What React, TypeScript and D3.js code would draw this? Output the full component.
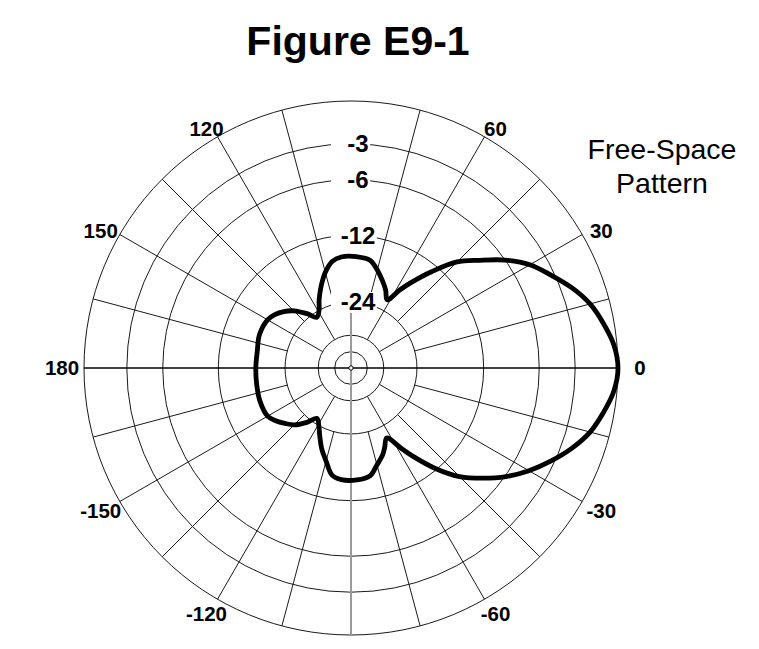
import React from "react";
import * as d3 from "d3";

const WIDTH = 759;
const HEIGHT = 649;
const titleText = "Figure E9-1";
const legendLines = ["Free-Space", "Pattern"];
const ringGains = [0, -3, -6, -12, -24, -36, -48];
const ringLabelGains = [-3, -6, -12, -24];
const angleTicks = [0, 30, 60, 120, 150, 180, -30, -60, -120, -150];

const patternAngles = [
  -170, -160, -150, -145, -140, -135, -129, -124, -119, -115, -110, -105, -100, -95, -87, -80, -75, -70, -67, -63,
  -58, -55, -50, -45, -40, -35, -30, -25, -20, -15, -10, -5,
  0, 5, 10, 15, 20, 25, 30, 35, 40, 45, 50, 55, 58, 62, 66, 70, 75, 80, 87, 95, 100, 105, 110, 115, 119, 124, 129,
  135, 140, 145, 150, 160, 170, 180,
];
const patternGains = [
  -17.6, -17.4, -17.5, -18.3, -19.4, -20.6, -23.0, -25.4, -23.9, -22.0, -19.5, -17.5, -15.4, -14.9, -14.9, -15.3, -16.8, -18.2, -19.4, -21.0,
  -17.8, -15.6, -12.2, -9.5, -7.6, -5.9, -4.5, -3.3, -2.2, -1.3, -0.7, -0.2,
  0, -0.2, -0.7, -1.3, -2.2, -3.3, -4.4, -6.0, -8.0, -9.9, -12.9, -16.2, -18.3, -21.3, -19.6, -18.2, -16.6, -15.3, -15.0, -15.0, -15.5, -17.0, -19.2, -21.7, -24.0, -25.3, -23.0,
  -20.5, -19.1, -18.1, -17.5, -17.3, -17.7, -17.7,
];

const FONT = "Arial, 'Liberation Sans', sans-serif";

export default function App() {
  const cx = 351;
  const cy = 368;
  const R = 267;
  // ARRL log-periodic scale: radius ∝ (power ratio)^0.253
  const rScale = d3.scalePow().exponent(0.25304).domain([0, 1]).range([0, R]);
  const rDb = (db: number) => rScale(Math.pow(10, db / 10));
  const rad = (deg: number) => (deg * Math.PI) / 180;
  const pt = (deg: number, r: number) => [cx + r * Math.cos(rad(deg)), cy - r * Math.sin(rad(deg))];

  const idx = patternAngles.map((_, i) => i);
  const line = d3
    .lineRadial<number>()
    .angle((i) => rad(90 - patternAngles[i]))
    .radius((i) => rDb(patternGains[i]))
    .curve(d3.curveCatmullRomClosed.alpha(0.5));
  const patternPath = line(idx) || "";

  const spokes = d3.range(0, 360, 15).filter((a) => a % 90 !== 0);
  const ringLabelSize = 24;
  const tickSize = 20.5;
  const gridColor = "#1a1a1a";

  return (
    <svg
      width={WIDTH}
      height={HEIGHT}
      style={{ position: "absolute", left: 0, top: 0, background: "#fff" }}
      fontFamily={FONT}
    >
      <rect x={0} y={0} width={WIDTH} height={HEIGHT} fill="#fff" />
      <text x={358} y={55} textAnchor="middle" fontSize={41} fontWeight="bold" fill="#000">
        {titleText}
      </text>
      {legendLines.map((t, i) => (
        <text key={t} x={662} y={159 + i * 34} textAnchor="middle" fontSize={28.5} fill="#000">
          {t}
        </text>
      ))}
      {ringGains.map((g) => (
        <circle key={g} cx={cx} cy={cy} r={rDb(g)} fill="none" stroke={gridColor} strokeWidth={1} />
      ))}
      {spokes.map((a) => {
        const r0 = a % 30 === 0 ? rDb(-36) : rDb(-24);
        const [x1, y1] = pt(a, r0);
        const [x2, y2] = pt(a, R);
        return <line key={a} x1={x1} y1={y1} x2={x2} y2={y2} stroke={gridColor} strokeWidth={1} />;
      })}
      {/* 0/180 axis */}
      <line x1={cx - R} y1={cy} x2={cx + R} y2={cy} stroke="#000" strokeWidth={1.6} />
      {/* 90/-90 axis */}
      <line x1={cx} y1={cy} x2={cx} y2={cy + R} stroke="#9a9a9a" strokeWidth={2} />
      <line x1={cx} y1={cy} x2={cx} y2={cy - 55} stroke="#9a9a9a" strokeWidth={2} />
      <circle cx={cx} cy={cy} r={2.2} fill="#fff" stroke="#000" strokeWidth={1} />
      {ringLabelGains.map((g) => {
        const label = String(g);
        const y = cy - rDb(g);
        const w = ringLabelSize * (0.333 + 0.556 * (label.length - 1));
        const tx = cx + 7;
        const left = cx - 20;
        const right = tx + w / 2 + 1.5;
        return (
          <g key={g}>
            <rect x={left} y={y - 10} width={right - left} height={20} fill="#fff" />
            <text x={tx} y={y} dy="0.35em" textAnchor="middle" fontSize={ringLabelSize} fontWeight="bold" fill="#000">
              {label}
            </text>
          </g>
        );
      })}
      {angleTicks.map((a) => {
        const [xe, ye] = pt(a, R);
        const s = Math.sin(rad(a));
        const x = xe + 22 * Math.cos(rad(a));
        const y = ye - 13 * s + (Math.abs(s) > 0.01 ? 3 : 0);
        return (
          <text key={a} x={x} y={y} dy="0.36em" textAnchor="middle" fontSize={tickSize} fontWeight="bold" fill="#000">
            {a}
          </text>
        );
      })}
      <path d={patternPath} transform={`translate(${cx},${cy})`} fill="none" stroke="#000" strokeWidth={4.8} strokeLinejoin="round" />
    </svg>
  );
}
